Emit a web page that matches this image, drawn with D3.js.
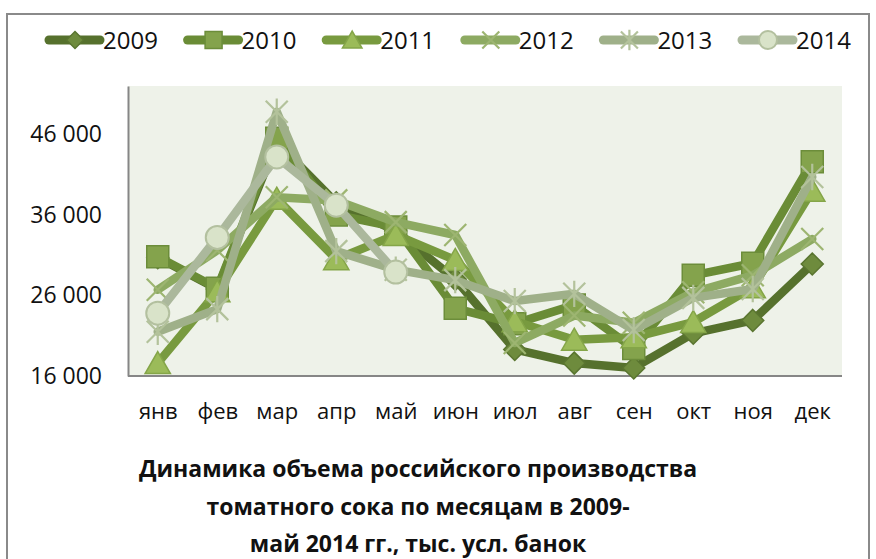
<!DOCTYPE html>
<html>
<head>
<meta charset="utf-8">
<script src="https://cdn.jsdelivr.net/npm/d3@7"></script>
<style>
  body { margin: 0; background: #fff; }
  svg { display: block; font-family: "Open Sans", "Noto Sans", sans-serif; }
</style>
</head>
<body>
<svg id="chart" width="876" height="559"></svg>
<script>
// months and series (тыс. усл. банок)
const months = ['янв', 'фев', 'мар', 'апр', 'май', 'июн', 'июл', 'авг', 'сен', 'окт', 'ноя', 'дек'];
const years = ['2009', '2010', '2011', '2012', '2013', '2014'];
const v2009 = [30700, 26800, 45000, 37500, 34000, 28000, 19300, 17600, 17000, 21300, 22900, 29900];
const v2010 = [30800, 26900, 45500, 36000, 34500, 24400, 22500, 24800, 19400, 28500, 30000, 42600];
const v2011 = [17600, 26500, 38000, 30500, 33500, 30400, 22800, 20500, 20800, 22700, 27000, 39000];
const v2012 = [26700, 31600, 38200, 37800, 35100, 33500, 20100, 23500, 22600, 26400, 28500, 33000];
const v2013 = [21500, 24300, 48800, 31500, 29200, 27900, 25300, 26200, 21700, 25700, 26800, 40700];
const v2014 = [23800, 33200, 43200, 37200, 28900, null, null, null, null, null, null, null];
const yTicks = [16000, 26000, 36000, 46000];
const titleLines = [
  'Динамика объема российского производства',
  'томатного сока по месяцам в 2009-',
  'май 2014 гг., тыс. усл. банок'
];

const seriesValues = [v2009, v2010, v2011, v2012, v2013, v2014];

// look of each series: line colour, marker type and colours
const styles = [
  {line: '#56712D', marker: 'diamond',  fill: '#6E8B3D', stroke: '#5A7530'},
  {line: '#6A8C36', marker: 'square',   fill: '#84A34C', stroke: '#6C8D3A'},
  {line: '#789A3F', marker: 'triangle', fill: '#9BBB59', stroke: '#84A548'},
  {line: '#8DAA62', marker: 'x',        fill: 'none',    stroke: '#9DB571'},
  {line: '#9FB089', marker: 'star',     fill: 'none',    stroke: '#B3C29B'},
  {line: '#ABB89C', marker: 'circle',   fill: '#D9E3C9', stroke: '#B3C09F'}
];

const svg = d3.select('#chart');

// outer frame of the chart
svg.append('rect')
  .attr('x', 7).attr('y', 14).attr('width', 862).attr('height', 560)
  .attr('fill', '#fff').attr('stroke', '#8A8A8A').attr('stroke-width', 2);

const plot = {left: 128, right: 842, top: 86, bottom: 376};

const x = d3.scalePoint().domain(months).range([plot.left, plot.right]).padding(0.5);
const y = d3.scaleLinear().domain([16000, 52000]).range([plot.bottom, plot.top]);

svg.append('rect')
  .attr('x', plot.left).attr('y', plot.top)
  .attr('width', plot.right - plot.left).attr('height', plot.bottom - plot.top)
  .attr('fill', '#EEF2E9');

const ru = d3.formatLocale({decimal: ',', thousands: ' ', grouping: [3], currency: ['', '']});
const fmt = ru.format(',');

// axes
const yAxis = svg.append('g')
  .attr('transform', `translate(${plot.left},0)`)
  .call(d3.axisLeft(y).tickValues(yTicks).tickFormat(fmt).tickSize(0).tickSizeOuter(0).tickPadding(26));
yAxis.select('.domain').attr('stroke', '#868686').attr('stroke-width', 2);
yAxis.selectAll('text').attr('font-size', 23).attr('fill', '#111')
  .attr('font-family', '"Open Sans", sans-serif');

const xAxis = svg.append('g')
  .attr('transform', `translate(0,${plot.bottom})`)
  .call(d3.axisBottom(x).tickSize(0).tickSizeOuter(0).tickPadding(27));
xAxis.select('.domain').attr('stroke', '#868686').attr('stroke-width', 2)
  .attr('d', `M${plot.left},0H${plot.right}`);
xAxis.selectAll('text').attr('font-size', 22).attr('fill', '#111')
  .attr('font-family', '"Open Sans", sans-serif');

// marker shapes
function markerPath(type, r) {
  if (type === 'diamond') return `M0,${-r}L${r},0L0,${r}L${-r},0Z`;
  if (type === 'square') return `M${-r},${-r}H${r}V${r}H${-r}Z`;
  if (type === 'triangle') return `M0,${-r * 1.05}L${r * 1.15},${r * 0.95}L${-r * 1.15},${r * 0.95}Z`;
  if (type === 'x') return `M${-r},${-r}L${r},${r}M${r},${-r}L${-r},${r}`;
  if (type === 'star') return `M${-r},${-r}L${r},${r}M${r},${-r}L${-r},${r}M0,${-r * 1.2}V${r * 1.2}`;
  return null;
}

function drawMarker(g, st, cx, cy, r) {
  if (st.marker === 'circle') {
    g.append('circle').attr('cx', cx).attr('cy', cy).attr('r', r)
      .attr('fill', st.fill).attr('stroke', st.stroke).attr('stroke-width', 2);
  } else {
    g.append('path').attr('d', markerPath(st.marker, r))
      .attr('transform', `translate(${cx},${cy})`)
      .attr('fill', st.fill).attr('stroke', st.stroke)
      .attr('stroke-width', st.fill === 'none' ? 2.2 : 1.5);
  }
}

const markerR = {diamond: 11, square: 11, triangle: 11, x: 11, star: 11, circle: 11.5};

const line = d3.line()
  .defined(d => d.v !== null)
  .x(d => x(d.m))
  .y(d => y(d.v))
  .curve(d3.curveLinear);

seriesValues.forEach((vals, i) => {
  const st = styles[i];
  const pts = vals.map((v, j) => ({m: months[j], v}));
  const g = svg.append('g').attr('class', 'series s' + years[i]);
  g.append('path')
    .attr('d', line(pts))
    .attr('fill', 'none')
    .attr('stroke', st.line)
    .attr('stroke-width', 8.5)
    .attr('stroke-linejoin', 'round')
    .attr('stroke-linecap', 'round');
  pts.filter(d => d.v !== null).forEach(d => {
    drawMarker(g, st, x(d.m), y(d.v), markerR[st.marker]);
  });
});

// legend
const legend = svg.append('g').attr('class', 'legend');
years.forEach((yr, i) => {
  const st = styles[i];
  const lx = 45 + i * 138.6;
  const ly = 40;
  const item = legend.append('g');
  item.append('line')
    .attr('x1', lx + 4).attr('x2', lx + 55).attr('y1', ly).attr('y2', ly)
    .attr('stroke', st.line).attr('stroke-width', 9).attr('stroke-linecap', 'round');
  drawMarker(item, st, lx + 30, ly, st.marker === 'circle' ? 9 : 8.5);
  item.append('text')
    .attr('x', lx + 58).attr('y', ly).attr('dy', '0.36em')
    .attr('font-size', 24).attr('fill', '#111')
    .text(yr);
});

// title
svg.append('g').selectAll('text').data(titleLines).join('text')
  .attr('x', 418)
  .attr('y', (d, i) => 477 + i * 37.5)
  .attr('text-anchor', 'middle')
  .attr('font-size', 23)
  .attr('font-weight', 'bold')
  .attr('fill', '#111')
  .text(d => d);
</script>
</body>
</html>
